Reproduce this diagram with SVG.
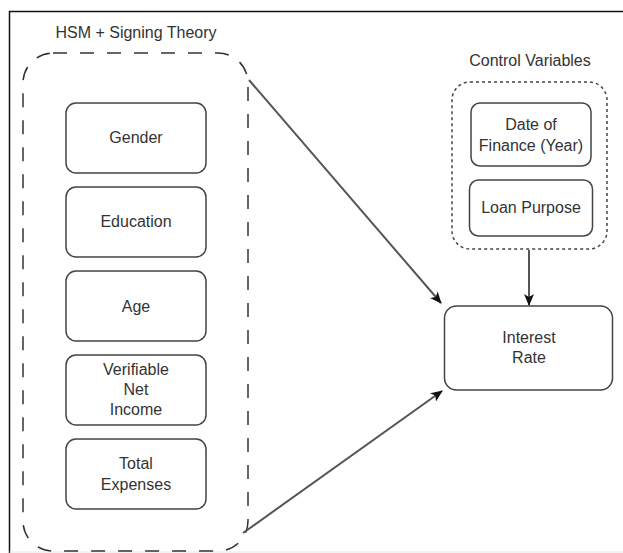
<svg xmlns="http://www.w3.org/2000/svg" width="623" height="553" viewBox="0 0 623 553">
<defs>
<style>
.t{font-family:"Liberation Sans",Arial,sans-serif;font-size:16px;fill:#333;text-anchor:middle}
.box{fill:#fff;stroke:#444;stroke-width:1.5}
.edge{fill:none;stroke:#555;stroke-width:2}
</style>
<marker id="ah" markerWidth="12" markerHeight="12" viewBox="0 0 12 12" refX="11" refY="6" orient="auto" markerUnits="userSpaceOnUse">
<path d="M0,1 L12,6 L0,11 L3,6 Z" fill="#111"/>
</marker>
</defs>
<rect x="0" y="0" width="623" height="553" fill="#fff"/>
<g id="frame">
<path d="M9.5,553 L9.5,11.5 L623,11.5" fill="none" stroke="#111" stroke-width="1.5"/>
<line x1="9.5" y1="552" x2="623" y2="552" stroke="#e6e6e6" stroke-width="1"/>
</g>
<g id="hsm-group">
<rect x="23" y="53" width="225" height="498" rx="30" ry="30" fill="none" stroke="#333" stroke-width="1.5" stroke-dasharray="14 13"/>
<text class="t" x="136" y="37.5">HSM + Signing Theory</text>
</g>
<g id="control-group">
<rect x="452" y="82" width="155" height="167" rx="18" ry="18" fill="none" stroke="#444" stroke-width="1.5" stroke-dasharray="3 3"/>
<text class="t" x="530" y="66">Control Variables</text>
</g>
<g id="gender"><rect class="box" x="66" y="103" width="140" height="70" rx="10"/><text class="t" x="136" y="143">Gender</text></g>
<g id="education"><rect class="box" x="66" y="187" width="140" height="70" rx="10"/><text class="t" x="136" y="227">Education</text></g>
<g id="age"><rect class="box" x="66" y="271" width="140" height="70" rx="10"/><text class="t" x="136" y="311.5">Age</text></g>
<g id="income"><rect class="box" x="66" y="355" width="140" height="70" rx="10"/><text class="t" x="136" y="375">Verifiable</text><text class="t" x="136" y="394.5">Net</text><text class="t" x="136" y="415">Income</text></g>
<g id="expenses"><rect class="box" x="66" y="439" width="140" height="70" rx="10"/><text class="t" x="136" y="469">Total</text><text class="t" x="136" y="490">Expenses</text></g>
<g id="date"><rect class="box" x="471" y="103" width="120" height="63" rx="9"/><text class="t" x="531" y="130">Date of</text><text class="t" x="531" y="151">Finance (Year)</text></g>
<g id="purpose"><rect class="box" x="469.5" y="180" width="123" height="56" rx="9"/><text class="t" x="531" y="213">Loan Purpose</text></g>
<g id="interest"><rect class="box" x="444.5" y="306" width="168" height="84" rx="12"/><text class="t" x="529" y="343">Interest</text><text class="t" x="529" y="363">Rate</text></g>
<g id="connectors">
<line class="edge" x1="249" y1="80" x2="441" y2="303" marker-end="url(#ah)"/>
<line class="edge" x1="529" y1="250" x2="529" y2="305" stroke="#333" marker-end="url(#ah)"/>
<line class="edge" x1="243" y1="533" x2="442" y2="391" marker-end="url(#ah)"/>
</g>
</svg>
